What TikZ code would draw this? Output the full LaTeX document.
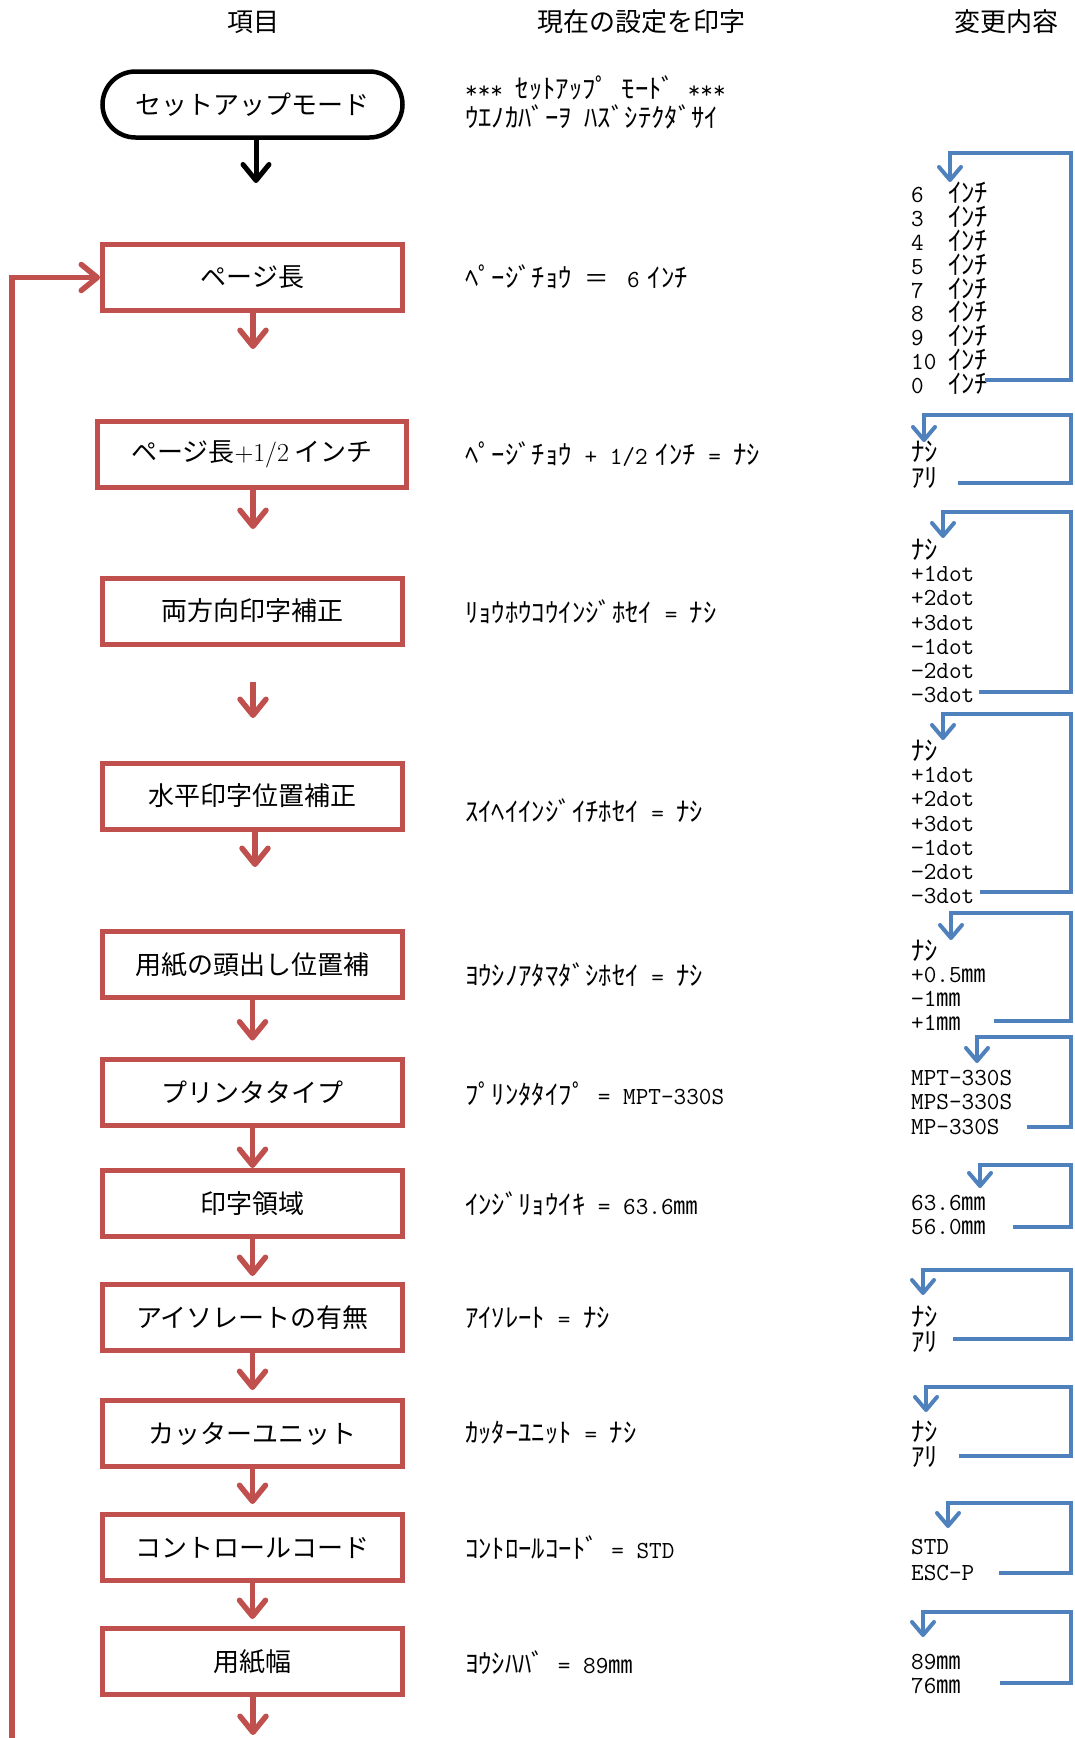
\documentclass[tikz,border=0pt]{standalone}
\usepackage{fontspec}
\newfontfamily\jp{Noto Sans CJK JP}
\newfontfamily\jpk{Noto Sans CJK JP}[Scale=1.09]
\usetikzlibrary{arrows.meta}
\definecolor{bred}{HTML}{C0504D}
\definecolor{bblue}{HTML}{4F81BD}
\newcommand\kk[1]{{\jpk #1}}
\newcommand\mm{{\jp ㎜}}
\newcommand\fs[1]{\fontsize{#1}{#1}\selectfont}
\newcommand\loopback[6]{%
  \coordinate (ls#1) at (#2,#3);
  \coordinate (lu#1) at (#5,#4);
  \coordinate (lt#1) at (#5,#6);
  \draw[bluearr] (ls#1) -- (ls#1 -| rx) -- (lu#1 -| rx) -- (lu#1) -- (lt#1);}
\begin{document}
\begin{tikzpicture}[x=1pt,y=-1pt,
  hdr/.style={inner sep=0pt,font={\jp\fs{26}}},
  redbox/.style={draw=bred, line width=5pt, minimum width=300pt, minimum height=66pt, inner sep=0pt, font={\jp\fs{26}}},
  startbox/.style={draw=black, line width=4.5pt, rounded corners=33pt, minimum width=300pt, minimum height=66pt, inner sep=0pt, font={\jp\fs{26}}},
  redarr/.style={draw=bred, line width=5.5pt, -{Straight Barb[length=16pt,width=26pt,round]}},
  blkarr/.style={draw=black, line width=5pt, -{Straight Barb[length=16pt,width=26pt,round]}},
  bluearr/.style={draw=bblue, line width=4pt, -{Straight Barb[length=13pt,width=22pt,round]}},
  mid/.style={anchor=west, inner sep=0pt, font={\ttfamily\fs{24.5}}},
  item/.style={anchor=west, inner sep=0pt, font={\ttfamily\fs{24.5}}},
]
\useasboundingbox (0,0) rectangle (1074,1738);
\coordinate (rx) at (1071,0);

% headers
\node[hdr] (h1) at (253,22) {項目};
\node[hdr] (h2) at (641,22) {現在の設定を印字};
\node[hdr] (h3) at (1006,22) {変更内容};

% left column
\node[startbox] (start) at (252.5,104.5) {セットアップモード};
\node[redbox] (b1) at (252.5,277.5) {ページ長};
\node[redbox, minimum width=309pt] (b2) at (252,454.5) {ページ長{\rmfamily +1/2} インチ};
\node[redbox] (b3) at (252.5,611) {両方向印字補正};
\node[redbox] (b4) at (252.5,796) {水平印字位置補正};
\node[redbox] (b5) at (252.5,964.5) {用紙の頭出し位置補};
\node[redbox] (b6) at (252.5,1092) {プリンタタイプ};
\node[redbox] (b7) at (252.5,1203.5) {印字領域};
\node[redbox] (b8) at (252.5,1317.5) {アイソレートの有無};
\node[redbox] (b9) at (252.5,1433.5) {カッターユニット};
\node[redbox] (b10) at (252.5,1547.5) {コントロールコード};
\node[redbox] (b11) at (252.5,1661.5) {用紙幅};

% arrows
\coordinate (t0) at (256,183);
\draw[blkarr] (start.south -| t0) -- (t0);
\coordinate (t1) at (253,349);
\draw[redarr] (b1.south -| t1) -- (t1);
\coordinate (t2) at (253,529);
\draw[redarr] (b2.south -| t2) -- (t2);
\coordinate (f3) at (253,682);
\coordinate (t3) at (253,718);
\draw[redarr] (f3) -- (t3);
\coordinate (t4) at (255,867);
\draw[redarr] (b4.south -| t4) -- (t4);
\draw[redarr, shorten >=16pt] (b5) -- (b6);
\draw[redarr] (b6) -- (b7);
\draw[redarr, shorten >=6pt] (b7) -- (b8);
\draw[redarr, shorten >=8pt] (b8) -- (b9);
\draw[redarr, shorten >=8pt] (b9) -- (b10);
\draw[redarr, shorten >=7pt] (b10) -- (b11);
\coordinate (t11) at (253,1735);
\draw[redarr] (b11.south -| t11) -- (t11);
\coordinate (fb) at (12,1738);
\draw[redarr] (fb) |- (b1.west);

% middle column
\node[mid] (m0a) at (465,88) {*** \kk{ｾｯﾄｱｯﾌﾟ} \kk{ﾓｰﾄﾞ} ***};
\node[mid] (m0b) at (465,117) {\kk{ｳｴﾉｶﾊﾞｰｦ} \kk{ﾊｽﾞｼﾃｸﾀﾞｻｲ}};
\node[mid] (m1) at (465,277) {\kk{ﾍﾟｰｼﾞﾁｮｳ} {\jp ＝}\hspace{18pt}6\hspace{8pt}\kk{ｲﾝﾁ}};
\node[mid] (m2) at (465,454) {\kk{ﾍﾟｰｼﾞﾁｮｳ} + 1/2\hspace{8pt}\kk{ｲﾝﾁ} = \kk{ﾅｼ}};
\node[mid] (m3) at (465,612) {\kk{ﾘｮｳﾎｳｺｳｲﾝｼﾞﾎｾｲ} = \kk{ﾅｼ}};
\node[mid] (m4) at (465,811) {\kk{ｽｲﾍｲｲﾝｼﾞｲﾁﾎｾｲ} = \kk{ﾅｼ}};
\node[mid] (m5) at (465,975) {\kk{ﾖｳｼﾉｱﾀﾏﾀﾞｼﾎｾｲ} = \kk{ﾅｼ}};
\node[mid] (m6) at (465,1094) {\kk{ﾌﾟﾘﾝﾀﾀｲﾌﾟ} = MPT-330S};
\node[mid] (m7) at (465,1204) {\kk{ｲﾝｼﾞﾘｮｳｲｷ} = 63.6\mm};
\node[mid] (m8) at (465,1318) {\kk{ｱｲｿﾚｰﾄ} = \kk{ﾅｼ}};
\node[mid] (m9) at (465,1433) {\kk{ｶｯﾀｰﾕﾆｯﾄ} = \kk{ﾅｼ}};
\node[mid] (m10) at (465,1547) {\kk{ｺﾝﾄﾛｰﾙｺｰﾄﾞ} = STD};
\node[mid] (m11) at (465,1663) {\kk{ﾖｳｼﾊﾊﾞ} = 89\mm};

% right column
\foreach \n [count=\i from 0] in {6,3,4,5,7,8,9,10,0}
  \node[item] (g1-\i) at (911,{193+23.8*\i}) {\makebox[37pt][l]{\n}\kk{ｲﾝﾁ}};
\loopback{1}{985}{380}{153}{950}{182}

\node[item] (g2-0) at (911,452) {\kk{ﾅｼ}};
\node[item] (g2-1) at (911,478) {\kk{ｱﾘ}};
\loopback{2}{958}{483}{415}{924}{442}

\foreach \t [count=\i from 0] in {{\kk{ﾅｼ}},+1dot,+2dot,+3dot,−1dot,−2dot,−3dot}
  \node[item] (g3-\i) at (911,{550+24.2*\i}) {\t};
\loopback{3}{979}{692}{512}{943}{538}

\foreach \t [count=\i from 0] in {{\kk{ﾅｼ}},+1dot,+2dot,+3dot,−1dot,−2dot,−3dot}
  \node[item] (g4-\i) at (911,{751+24.2*\i}) {\t};
\loopback{4}{980}{892}{714}{943}{740}

\node[item] (g5-0) at (911,951) {\kk{ﾅｼ}};
\node[item] (g5-1) at (911,975) {+0.5\mm};
\node[item] (g5-2) at (911,999) {−1\mm};
\node[item] (g5-3) at (911,1023) {+1\mm};
\loopback{5}{994}{1021}{913}{951}{940}

\node[item] (g6-0) at (911,1078) {MPT-330S};
\node[item] (g6-1) at (911,1102) {MPS-330S};
\node[item] (g6-2) at (911,1127) {MP-330S};
\loopback{6}{1027}{1127}{1037}{977}{1063}

\node[item] (g7-0) at (911,1203) {63.6\mm};
\node[item] (g7-1) at (911,1227) {56.0\mm};
\loopback{7}{1013}{1227}{1165}{980}{1188}

\node[item] (g8-0) at (911,1317) {\kk{ﾅｼ}};
\node[item] (g8-1) at (911,1342) {\kk{ｱﾘ}};
\loopback{8}{953}{1339}{1270}{923}{1295}

\node[item] (g9-0) at (911,1432) {\kk{ﾅｼ}};
\node[item] (g9-1) at (911,1457) {\kk{ｱﾘ}};
\loopback{9}{959}{1456}{1387}{926}{1412}

\node[item] (g10-0) at (911,1547) {STD};
\node[item] (g10-1) at (911,1573) {ESC-P};
\loopback{10}{999}{1573}{1503}{948}{1528}

\node[item] (g11-0) at (911,1662) {89\mm};
\node[item] (g11-1) at (911,1686) {76\mm};
\loopback{11}{1000}{1683}{1612}{923}{1637}
\end{tikzpicture}
\end{document}
